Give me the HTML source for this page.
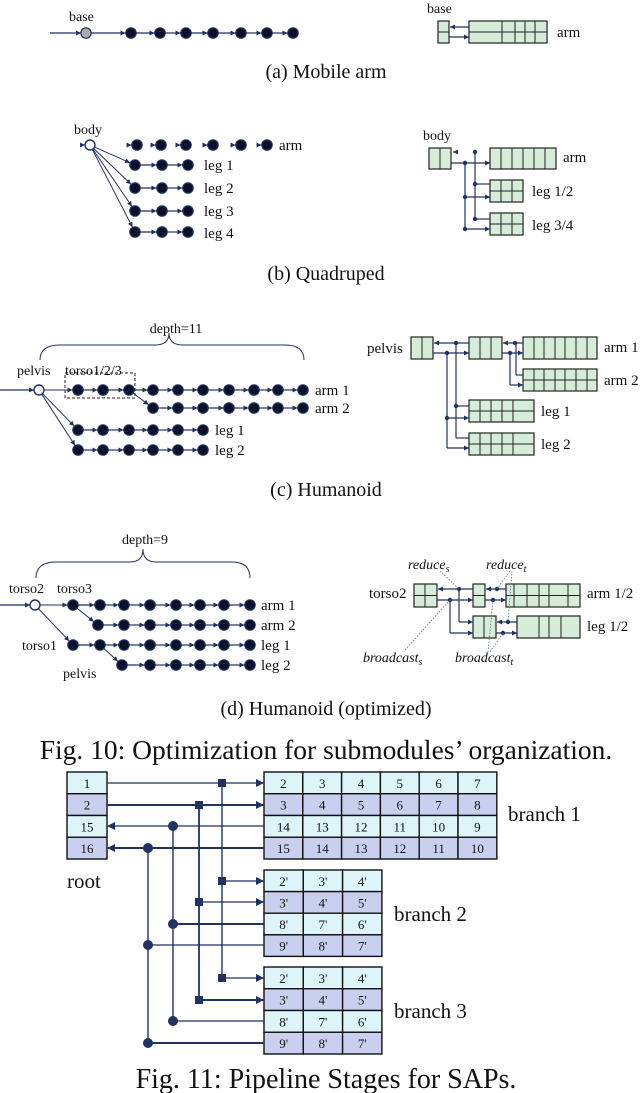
<!DOCTYPE html>
<html><head><meta charset="utf-8"><style>
html,body{margin:0;padding:0;background:#fff;}
svg{display:block;}
text{font-family:"Liberation Serif",serif;fill:#111;}
</style></head><body>
<svg id="s" width="640" height="1093" viewBox="0 0 640 1093" xmlns="http://www.w3.org/2000/svg">
<defs>
<marker id="ah" viewBox="0 0 10 10" refX="10" refY="5" markerWidth="5" markerHeight="5" orient="auto" markerUnits="userSpaceOnUse"><path d="M0,0 L10,5 L0,10 z" fill="#1f3262"/></marker>
</defs>
<g id="g"></g>
<text x="69" y="21" font-size="14">base</text>
<text x="427" y="13" font-size="14">base</text>
<text x="557" y="37" font-size="15">arm</text>
<text x="326" y="78" font-size="20" text-anchor="middle">(a) Mobile arm</text>
<text x="74" y="134" font-size="14">body</text>
<text x="279" y="150" font-size="15">arm</text>
<text x="204" y="170" font-size="15">leg 1</text>
<text x="204" y="193" font-size="15">leg 2</text>
<text x="204" y="216" font-size="15">leg 3</text>
<text x="204" y="238" font-size="15">leg 4</text>
<text x="423" y="140" font-size="14">body</text>
<text x="563" y="162" font-size="15">arm</text>
<text x="532" y="196" font-size="15">leg 1/2</text>
<text x="532" y="230" font-size="15">leg 3/4</text>
<text x="326" y="280" font-size="20" text-anchor="middle">(b) Quadruped</text>
<text x="176" y="333" font-size="14" text-anchor="middle">depth=11</text>
<text x="17" y="375" font-size="14">pelvis</text>
<text x="65" y="375" font-size="14">torso1/2/3</text>
<text x="315" y="395" font-size="15">arm 1</text>
<text x="315" y="413" font-size="15">arm 2</text>
<text x="215" y="435" font-size="15">leg 1</text>
<text x="215" y="455" font-size="15">leg 2</text>
<text x="367" y="353" font-size="15">pelvis</text>
<text x="604" y="352" font-size="15">arm 1</text>
<text x="604" y="385" font-size="15">arm 2</text>
<text x="541" y="416" font-size="15">leg 1</text>
<text x="541" y="449" font-size="15">leg 2</text>
<text x="326" y="496" font-size="20" text-anchor="middle">(c) Humanoid</text>
<text x="145" y="544" font-size="14" text-anchor="middle">depth=9</text>
<text x="9" y="593" font-size="14">torso2</text>
<text x="57" y="593" font-size="14">torso3</text>
<text x="261" y="610" font-size="15">arm 1</text>
<text x="261" y="630" font-size="15">arm 2</text>
<text x="261" y="650" font-size="15">leg 1</text>
<text x="261" y="670" font-size="15">leg 2</text>
<text x="22" y="650" font-size="14">torso1</text>
<text x="63" y="678" font-size="14">pelvis</text>
<text x="369" y="598" font-size="15">torso2</text>
<text x="587" y="598" font-size="15">arm 1/2</text>
<text x="587" y="631" font-size="15">leg 1/2</text>
<text x="408" y="569" font-size="14" font-style="italic">reduce<tspan font-size="10" dy="3">s</tspan></text>
<text x="486" y="569" font-size="14" font-style="italic">reduce<tspan font-size="10" dy="3">t</tspan></text>
<text x="363" y="662" font-size="14" font-style="italic">broadcast<tspan font-size="10" dy="3">s</tspan></text>
<text x="455" y="662" font-size="14" font-style="italic">broadcast<tspan font-size="10" dy="3">t</tspan></text>
<text x="326" y="715" font-size="20" text-anchor="middle">(d) Humanoid (optimized)</text>
<text x="326" y="759" font-size="27.5" text-anchor="middle">Fig. 10: Optimization for submodules’ organization.</text>
<text x="67" y="888" font-size="21">root</text>
<text x="508" y="821" font-size="21">branch 1</text>
<text x="394" y="921" font-size="21">branch 2</text>
<text x="394" y="1018" font-size="21">branch 3</text>
<text x="326" y="1088" font-size="28" text-anchor="middle">Fig. 11: Pipeline Stages for SAPs.</text>
<g id="t"></g>
</svg>
<script>
var NS="http://www.w3.org/2000/svg",G=document.getElementById("g"),T=document.getElementById("t"),C="#1f3262",GR="#d6eed9";
function el(n,a,p){var e=document.createElementNS(NS,n);for(var k in a)e.setAttribute(k,a[k]);(p||G).appendChild(e);return e;}
function L(x1,y1,x2,y2,arr,w,col,dash){var a={x1:x1,y1:y1,x2:x2,y2:y2,stroke:col||C,"stroke-width":w||1.2,fill:"none"};if(arr)a["marker-end"]="url(#ah)";if(dash)a["stroke-dasharray"]=dash;return el("line",a);}
function P(d,w){el("path",{d:d,stroke:C,"stroke-width":w||1.2,fill:"none"});}
function N(x,y,f){el("circle",{cx:x,cy:y,r:5.2,fill:f||"#0b1028",stroke:"#1f3262","stroke-width":1.2});}
function D(x,y,r){el("circle",{cx:x,cy:y,r:r||2.2,fill:C});}
function chain(y,xs){for(var i=0;i<xs.length-1;i++)L(xs[i]+5,y,xs[i+1]-5.5,y,true);}
function seg(x1,y1,x2,y2){var dx=x2-x1,dy=y2-y1,l=Math.sqrt(dx*dx+dy*dy);L(x1+dx/l*5,y1+dy/l*5,x2-dx/l*5.5,y2-dy/l*5.5,true,1);}
function box(x,y,w,h,cols,rows,fill){el("rect",{x:x,y:y,width:w,height:h,fill:fill||GR,stroke:"#222","stroke-width":1.2});
 (cols||[]).forEach(function(c){L(c,y,c,y+h,false,1,"#222");});
 for(var r=1;r<rows;r++){var yy=y+h*r/rows;L(x,yy,x+w,yy,false,1,"#222");}}
L(50,33,81,33,true);
N(86,33,"#aaa");
var xa=[131,160,186,213,241,267,293];
L(91,33,xa[0]-5.5,33,true);chain(33,xa);xa.forEach(function(x){N(x,33)});
box(438,21,11,22,[],2);
box(469,21,78,22,[502,515,525,535],2);
L(469,27,450,27,true);L(449,37,469,37,true);
L(80,145,85,145,true);el("circle",{cx:90,cy:145,r:5,fill:"#fff",stroke:C,"stroke-width":1.4});
[137,161,186,213,241,267].forEach(function(x){L(x-9,145,x-5.5,145,true);N(x,145);});
var xb=[135,162,188];
[165,188,211,232].forEach(function(y){seg(90,145,xb[0],y);chain(y,xb);xb.forEach(function(x){N(x,y)});});
box(429,148,22,21,[440],1);
box(490,148,66,21,[501,512,523,534,545],1);
box(490,180,33,22,[501,512],2);
box(490,213,33,22,[501,512],2);
L(458,152,453,152,true);
L(451,163,490,163,true);D(465,163);
L(465,163,465,229);L(465,197,490,197,true);L(465,229,490,229,true);D(465,197);D(465,229);
L(475,152,475,219);D(475,152);D(475,184);D(475,219);L(475,184,490,184);L(475,219,490,219);
P("M40,360 Q40,345 60,345 L155,345 Q169,345 169,333 Q169,345 183,345 L285,345 Q304,345 304,360",1);
el("rect",{x:65,y:373,width:70,height:25,fill:"none",stroke:"#222","stroke-width":1,"stroke-dasharray":"3,2"});
L(0,390,34,390,true);el("circle",{cx:39,cy:390,r:5,fill:"#fff",stroke:C,"stroke-width":1.4});
var x1=[78,103,129,153,178,203,229,254,278,303];
seg(39,390,78,390);chain(390,x1);x1.forEach(function(x){N(x,390)});
var x2=x1.slice(3);seg(129,390,153,408);chain(408,x2);x2.forEach(function(x){N(x,408)});
var xl=[78,103,129,153,178,203];
[430,450].forEach(function(y){seg(39,390,78,y);chain(y,xl);xl.forEach(function(x){N(x,y)});});
box(411,337,22,22,[422],1);
box(469,337,33,22,[480,491],1);
box(523,337,74,22,[534,544,555,565,576,587],1);
box(523,369,74,22,[534,544,555,565,576,587],2);
box(469,400,65,22,[480,491,502,513],2);
box(469,433,65,22,[480,491,502,513],2);
L(469,343,434,343,true);L(433,353,469,353,true);
D(456,343);L(456,343,456,438);D(456,406);L(456,406,469,406);L(456,438,469,438);
D(447,353);L(447,353,447,448);D(447,418);L(447,418,469,418,true);L(447,448,469,448,true);
L(523,343,503,343,true);L(502,353,523,353,true);
D(515,343);L(516,343,516,375);L(516,375,523,375);
D(510,353);L(510,353,510,385);L(510,385,523,385,true);
P("M36,578 Q36,562 56,562 L130,562 Q143,562 143,549 Q143,562 156,562 L232,562 Q250,562 250,578",1);
L(0,605,30,605,true);el("circle",{cx:35,cy:605,r:5,fill:"#fff",stroke:C,"stroke-width":1.4});
var d1=[73,100,124,150,176,200,224,250];
seg(35,605,73,605);chain(605,d1);d1.forEach(function(x){N(x,605)});
var d2=[98,124,150,176,200,224,250];seg(73,605,98,625);chain(625,d2);d2.forEach(function(x){N(x,625)});
seg(35,605,73,645);chain(645,d1);d1.forEach(function(x){N(x,645)});
var d4=[122,150,176,200,224,250];seg(100,645,122,665);chain(665,d4);d4.forEach(function(x){N(x,665)});
box(414,584,23,23,[425],2);
box(473,584,12,23,[],2);
box(506,584,74,23,[514,527,539,549,568],2);
box(473,616,23,22,[484],1);
box(517,616,63,22,[539,549,561],1);
L(473,589,438,589,true);L(437,600,473,600,true);
D(459,589);L(459,589,459,622);L(459,622,473,622,true);
D(450,600);L(450,600,450,633);L(450,633,473,633,true);
L(506,589,486,589,true);L(485,600,506,600,true);D(497,589);D(493,600);
L(517,622,497,622,true);L(496,633,517,633,true);D(508,622);D(503,633);
var dd="1.5,1.5";
L(440,571,459,589,false,0.8,"#5570a0",dd);L(510,571,497,589,false,0.8,"#5570a0",dd);L(512,571,508,622,false,0.8,"#5570a0",dd);
L(405,650,450,600,false,0.8,"#5570a0",dd);L(488,652,493,600,false,0.8,"#5570a0",dd);L(490,652,503,633,false,0.8,"#5570a0",dd);
var c1="#ddf5f8",c2="#c9d0ef";
function table(x,y,cw,rh,data){data.forEach(function(r,i){r.forEach(function(v,j){el("rect",{x:x+j*cw,y:y+i*rh,width:cw,height:rh,fill:i%2?c2:c1,stroke:"#111","stroke-width":1.4},T);
 var t=el("text",{x:x+j*cw+cw/2,y:y+i*rh+rh/2+5,"font-size":13,"text-anchor":"middle"},T);t.textContent=v;});});}
table(67,772,40,21.75,[["1"],["2"],["15"],["16"]]);
table(264,772,38.8,21.75,[["2","3","4","5","6","7"],["3","4","5","6","7","8"],["14","13","12","11","10","9"],["15","14","13","12","11","10"]]);
table(264,870,39.3,21.6,[["2'","3'","4'"],["3'","4'","5'"],["8'","7'","6'"],["9'","8'","7'"]]);
table(264,967,39.3,21.75,[["2'","3'","4'"],["3'","4'","5'"],["8'","7'","6'"],["9'","8'","7'"]]);
function sq(x,y){el("rect",{x:x-4,y:y-4,width:8,height:8,fill:C},T);}
function lt(x1,y1,x2,y2,w,arr){var a={x1:x1,y1:y1,x2:x2,y2:y2,stroke:C,"stroke-width":w};if(arr)a["marker-end"]="url(#ah2)";el("line",a,T);}
el("marker",{id:"ah2",viewBox:"0 0 10 10",refX:10,refY:5,markerWidth:8,markerHeight:8,orient:"auto",markerUnits:"userSpaceOnUse"},document.querySelector("defs")).appendChild(function(){var p=document.createElementNS(NS,"path");p.setAttribute("d","M0,0 L10,5 L0,10 z");p.setAttribute("fill",C);return p;}());
lt(107,783,264,783,1.2,true);lt(222,783,222,978,1.4);lt(222,881,264,881,1.2,true);lt(222,978,264,978,1.2,true);
lt(107,805,264,805,2,true);lt(199,805,199,1000,1.8);lt(199,902,264,902,1.2,true);lt(199,1000,264,1000,2,true);
lt(264,826,107,826,1.2,true);lt(173,826,173,1021,1.4);lt(173,924,264,924,2);lt(173,1021,264,1021,1.2);
lt(264,848,107,848,2,true);lt(148,848,148,1043,1.4);lt(148,945,264,945,1.2);lt(148,1043,264,1043,2);
[783,881,978].forEach(function(y){sq(222,y)});[805,902,1000].forEach(function(y){sq(199,y)});
[826,924,1021].forEach(function(y){el("circle",{cx:173,cy:y,r:5,fill:C},T)});
[848,945,1043].forEach(function(y){el("circle",{cx:148,cy:y,r:5,fill:C},T)});
</script>
</body></html>
